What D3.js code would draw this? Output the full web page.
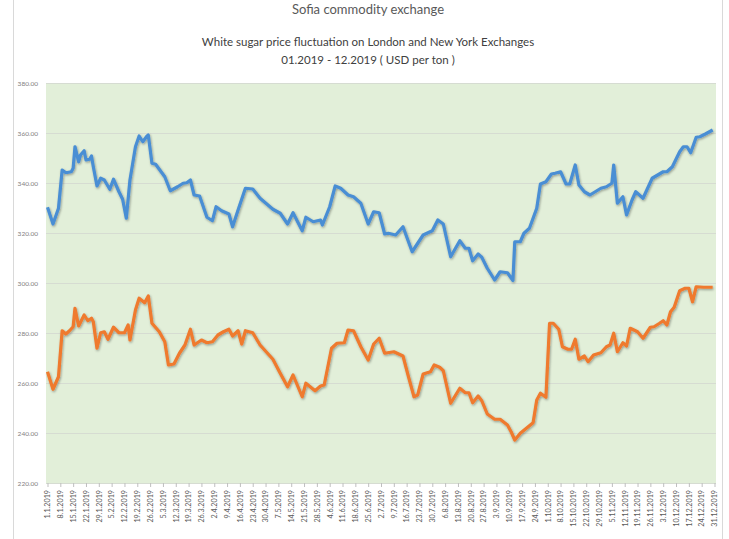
<!DOCTYPE html>
<html><head><meta charset="utf-8">
<script src="https://cdn.jsdelivr.net/npm/d3@7"></script>
<style>body{margin:0;background:#fff}svg{display:block}</style>
</head><body>
<svg id="c" width="729" height="539"></svg>
<script>
// ---- data ----
const titleTop = "Sofia commodity exchange";
const title1 = "White sugar price fluctuation on London and New York Exchanges";
const title2 = "01.2019 - 12.2019 ( USD per ton )";
const yTicks = [220, 240, 260, 280, 300, 320, 340, 360, 380];

const londonDates = ["1.1","4.1","7.1","9.1","11.1","14.1","15.1","16.1","18.1","19.1","21.1","22.1","24.1","25.1","26.1","28.1","30.1",
 "1.2","4.2","6.2","9.2","11.2","13.2","15.2","18.2","20.2","22.2","24.2","25.2","27.2",
 "1.3","4.3","6.3","9.3","13.3","16.3","18.3","20.3","22.3","25.3","29.3",
 "1.4","3.4","6.4","10.4","12.4","15.4","19.4","23.4","27.4",
 "4.5","8.5","12.5","15.5","20.5","22.5","26.5","30.5","31.5",
 "4.6","7.6","10.6","14.6","17.6","21.6","25.6","28.6",
 "1.7","4.7","6.7","10.7","14.7","19.7","25.7","30.7",
 "2.8","5.8","9.8","14.8","17.8","19.8","21.8","24.8","26.8","29.8",
 "2.9","5.9","9.9","12.9","13.9","16.9","18.9","21.9","23.9","25.9","27.9","30.9",
 "3.10","5.10","8.10","11.10","13.10","16.10","18.10","21.10","24.10","30.10",
 "2.11","5.11","6.11","8.11","11.11","13.11","16.11","18.11","22.11","27.11","30.11",
 "3.12","5.12","8.12","12.12","14.12","16.12","18.12","21.12","23.12","26.12","30.12"];
const londonValues = [330.3,323.6,329.9,345.2,344.1,344.5,345.9,354.5,348.5,351.2,352.9,349.2,349.5,350.8,346.5,338.8,341.9,
 341.2,337.5,341.5,336.5,333.5,325.9,341.2,354.5,358.8,356.5,358.5,359.2,347.9,
 347.5,344.5,342.5,336.9,338.5,339.9,340.1,341.2,335.2,334.8,326.3,
 324.9,330.5,328.9,327.6,322.5,329.2,337.9,337.6,333.9,
 329.5,327.9,323.6,328.1,320.9,326.3,324.5,325.2,323.2,
 330.5,338.8,337.9,335.2,334.5,331.9,323.6,328.5,
 328.1,319.6,319.9,319.2,322.5,312.5,319.2,320.9,
 325.2,323.6,310.5,316.9,313.9,313.9,308.9,311.6,310.3,305.9,
 301.2,304.5,304.1,301.0,316.5,316.5,319.9,321.9,325.9,329.9,339.6,340.5,
 343.6,343.9,344.5,339.6,339.6,347.2,339.2,336.5,335.2,337.9,
 338.5,339.9,347.2,331.9,334.5,327.2,333.2,336.5,333.9,341.9,343.2,
 344.5,344.5,346.5,352.5,354.5,354.5,352.1,358.3,358.5,359.6,361.2];

const newYorkDates = ["1.1","4.1","7.1","9.1","11.1","13.1","15.1","16.1","18.1","21.1","23.1","25.1","26.1","28.1","30.1",
 "1.2","3.2","6.2","9.2","12.2","14.2","15.2","18.2","20.2","23.2","25.2","27.2",
 "3.3","6.3","8.3","11.3","14.3","17.3","20.3","22.3","26.3","29.3",
 "1.4","4.4","7.4","10.4","12.4","15.4","17.4","19.4","23.4","27.4",
 "4.5","8.5","12.5","15.5","20.5","22.5","27.5","30.5",
 "1.6","5.6","8.6","12.6","14.6","17.6","21.6","25.6","28.6",
 "1.7","4.7","9.7","14.7","17.7","20.7","22.7","25.7","29.7","31.7",
 "3.8","5.8","9.8","14.8","17.8","19.8","21.8","24.8","26.8","29.8",
 "2.9","5.9","9.9","11.9","13.9","16.9","20.9","23.9","25.9","27.9","30.9",
 "2.10","4.10","7.10","9.10","12.10","14.10","16.10","18.10","21.10","23.10","26.10","30.10",
 "2.11","4.11","6.11","8.11","11.11","13.11","15.11","19.11","22.11","26.11","28.11",
 "1.12","3.12","5.12","7.12","9.12","12.12","15.12","17.12","19.12","21.12","25.12","30.12"];
const newYorkValues = [264.5,257.5,262.5,280.9,279.6,280.9,282.5,289.9,282.8,287.2,284.9,285.9,284.5,273.9,280.1,
 280.5,277.5,282.3,280.1,280.1,283.2,277.2,289.2,293.9,292.1,294.8,283.9,
 280.5,276.5,267.2,267.6,271.9,275.2,281.5,275.2,277.2,276.1,
 276.5,279.2,280.5,281.5,278.8,280.9,275.6,280.9,280.1,275.2,
 269.5,263.9,258.5,263.2,254.5,259.9,256.9,258.8,
 259.2,273.9,275.9,276.1,281.2,280.9,274.5,269.2,275.6,
 277.9,271.9,272.5,270.8,262.5,254.5,255.2,263.6,264.5,267.2,
 266.3,264.9,251.9,257.9,256.1,256.1,252.1,254.8,252.9,247.6,
 245.5,245.5,243.2,240.5,237.2,239.9,242.3,244.1,253.2,255.9,254.3,
 283.9,283.9,281.5,274.5,273.5,273.5,277.5,269.5,270.8,268.5,271.2,272.1,
 274.5,275.2,279.9,272.5,276.1,274.8,281.9,280.5,277.9,282.3,282.5,
 283.9,284.9,283.2,288.5,290.3,296.9,297.9,297.9,292.5,298.5,298.3,298.3];

// ---- drawing ----
const parse = s => { const [d, m] = s.split(".").map(Number); return new Date(2019, m - 1, d); };
const svg = d3.select("#c");
const W = 729, H = 539;
const plot = {left: 46, right: 716, top: 83, bottom: 483};

const x = d3.scaleTime().domain([new Date(2019,0,1), new Date(2019,11,31)]).range([47.5, 714.5]);
const y = d3.scaleLinear().domain([220, 380]).range([plot.bottom, plot.top]);

// frame lines
svg.append("line").attr("x1",13.5).attr("x2",13.5).attr("y1",0).attr("y2",H).attr("stroke","#d9d9d9");
svg.append("line").attr("x1",722.5).attr("x2",722.5).attr("y1",0).attr("y2",H).attr("stroke","#d9d9d9");

// plot background
svg.append("rect").attr("x",plot.left).attr("y",plot.top)
  .attr("width",plot.right-plot.left).attr("height",plot.bottom-plot.top).attr("fill","#e2efd9");

// titles
svg.append("text").attr("x",368).attr("y",14).attr("text-anchor","middle")
  .attr("font-family","Lato, 'Open Sans', sans-serif").attr("font-size",13).attr("fill","#595959").text(titleTop);
svg.append("text").attr("x",368).attr("y",46).attr("text-anchor","middle")
  .attr("font-family","Lato, sans-serif").attr("font-size",11.5).attr("fill","#404040").text(title1);
svg.append("text").attr("x",368).attr("y",64).attr("text-anchor","middle")
  .attr("font-family","Lato, sans-serif").attr("font-size",11.5).attr("fill","#404040").text(title2);

// y gridlines + labels
const yAxis = d3.axisLeft(y).tickValues(yTicks).tickSize(-(plot.right-plot.left)).tickPadding(8)
  .tickFormat(d3.format(".2f"));
const gy = svg.append("g").attr("transform",`translate(${plot.left},0)`).call(yAxis);
gy.select(".domain").remove();
gy.selectAll(".tick line").attr("stroke","#d6dcd2").attr("stroke-width",1.2);
gy.selectAll(".tick text").attr("font-family","Lato, sans-serif").attr("font-size",6.5).attr("fill","#7f7f7f");

// x axis: every Tuesday of 2019
const tickDates = d3.timeTuesday.range(new Date(2019,0,1), new Date(2020,0,1));
const xAxis = d3.axisBottom(x).tickValues(tickDates).tickSize(4).tickPadding(4)
  .tickFormat(d => `${d.getDate()}.${d.getMonth()+1}.${d.getFullYear()}`);
const gx = svg.append("g").attr("transform",`translate(0,${plot.bottom})`).call(xAxis);
gx.select(".domain").remove();
gx.selectAll(".tick line").attr("stroke","#bfbfbf");
gx.selectAll(".tick text").attr("font-family","Lato, sans-serif").attr("font-size",7.2).attr("fill","#595959")
  .attr("text-anchor","end").attr("transform","rotate(-90)").attr("x",-7).attr("y",0).attr("dy","0.32em");

// shadow filter
const defs = svg.append("defs");
const f = defs.append("filter").attr("id","sh").attr("x","-5%").attr("y","-5%").attr("width","110%").attr("height","120%");
f.append("feDropShadow").attr("dx",0.8).attr("dy",1.2).attr("stdDeviation",0.9).attr("flood-color","#000").attr("flood-opacity",0.35);

const line = d3.line().x(d => x(d[0])).y(d => y(d[1])).curve(d3.curveLinear);
const series = [
  {dates: londonDates, values: londonValues, color: "#4a8ed4"},
  {dates: newYorkDates, values: newYorkValues, color: "#ef7a2e"}
];
series.forEach(s => {
  const pts = s.dates.map((d, i) => [parse(d), s.values[i]]);
  svg.append("path").datum(pts).attr("d", line).attr("fill","none")
    .attr("stroke", s.color).attr("stroke-width", 3.2).attr("stroke-linejoin","round")
    .attr("filter","url(#sh)");
});
</script>
</body></html>
